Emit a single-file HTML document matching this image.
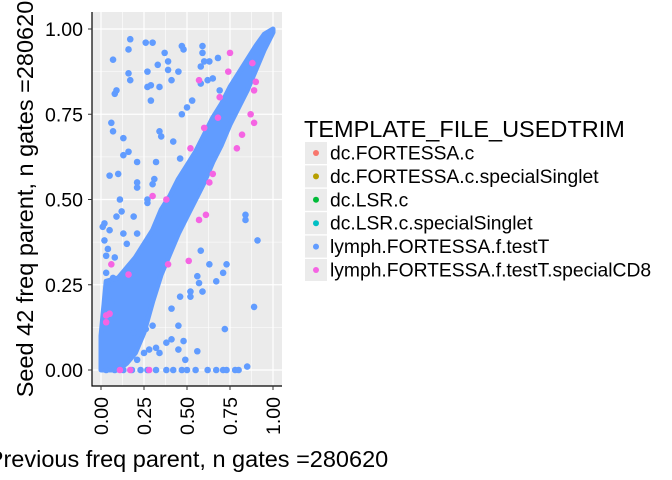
<!DOCTYPE html>
<html><head><meta charset="utf-8">
<style>
html,body{margin:0;padding:0;background:#fff;}
svg{display:block;font-family:"Liberation Sans",Arial,sans-serif;}
</style></head>
<body>
<svg id="chart" width="672" height="480" viewBox="0 0 672 480">
<rect x="0" y="0" width="672" height="480" fill="#fff"/>
<g id="panel"></g>
<g id="axes"></g>
<text x="188" y="467" font-size="23.5" text-anchor="middle" fill="#000">Previous freq parent, n gates =280620</text>
<text transform="translate(33,199) rotate(-90)" font-size="23.5" text-anchor="middle" fill="#000">Seed 42 freq parent, n gates =280620</text>
<g id="legend"></g>
</svg>
<script>
const categories = ["dc.FORTESSA.c","dc.FORTESSA.c.specialSinglet","dc.LSR.c","dc.LSR.c.specialSinglet","lymph.FORTESSA.f.testT","lymph.FORTESSA.f.testT.specialCD8"];
const colors = ["#F8766D","#B79F00","#00BA38","#00BFC4","#619CFF","#F564E3"];
const tickValues = [0,0.25,0.5,0.75,1];
const tickLabels = ["0.00","0.25","0.50","0.75","1.00"];
// dense band envelope of the blue series
const bandX =    [0,   0.03,0.1, 0.15,0.2, 0.25,0.3, 0.35,0.4, 0.45,0.5, 0.55,0.6, 0.65,0.7, 0.75,0.8, 0.85,0.9, 0.95,1.0];
const bandLow =  [0,   0,   0,   0.02,0.05,0.11,0.20,0.28,0.34,0.40,0.45,0.50,0.55,0.61,0.66,0.72,0.77,0.82,0.88,0.94,0.99];
const bandHigh = [0.10,0.26,0.27,0.30,0.33,0.37,0.41,0.47,0.51,0.56,0.60,0.64,0.69,0.74,0.78,0.83,0.87,0.91,0.95,0.985,1.0];
// scattered blue points
const blueX = [.17,.16,.07,.26,.30,.37,.16,.17,.27,.33,.39,.39,.45,.41,.27,.29,.34,.29,.08,.09,.47,.48,.59,.59,.60,.63,.68,.58,.62,.65,.53,.50,.47,.58,.69,.06,.07,.13,.16,.13,.34,.35,.42,.46,.21,.32,.05,.10,.21,.21,.31,.30,.11,.27,.27,.12,.09,.19,.02,.05,.13,.21,.15,.04,.08,.03,.03,.07,.91,.84,.84,.58,.63,.73,.71,.67,.56,.57,.59,.52,.52,.46,.41,.45,.89,.72,.48,.41,.45,.56,.49,.42,.47,.50,.55,.62,.67,.71,.73,.78,.80,.85,.38,.32,.27,.23,.18,.13,.08,.03,.28,.32,.34,.25,.21,.26,.30,.19,.38,.01,.02,.04,.06];
const blueY = [.97,.94,.91,.96,.96,.93,.87,.85,.875,.895,.905,.88,.875,.85,.83,.835,.83,.79,.81,.82,.95,.94,.95,.93,.905,.905,.915,.89,.85,.855,.79,.77,.75,.84,.82,.725,.70,.68,.64,.63,.70,.685,.67,.62,.61,.61,.57,.575,.55,.535,.56,.545,.50,.49,.50,.465,.45,.45,.43,.41,.40,.40,.37,.355,.33,.335,.285,.27,.38,.455,.44,.35,.31,.31,.285,.26,.275,.255,.23,.23,.215,.215,.18,.13,.185,.12,.085,.09,.06,.055,.03,0,0,0,0,0,0,0,0,0,0,.01,0,0,0,0,0,0,0,0,.06,.065,.05,.05,.03,.12,.13,.11,.08,.42,.38,.25,.20];
// pink points
const pinkX = [.75,.74,.57,.69,.68,.60,.89,.87,.89,.82,.79,.52,.65,.63,.30,.38,.57,.61,.06,.16,.03,.03,.05,.17,.28,.11,.51,.39,.88,.90];
const pinkY = [.93,.875,.85,.80,.74,.71,.82,.75,.725,.69,.65,.65,.575,.55,.51,.50,.44,.455,.31,.28,.16,.14,.165,0,0,0,.32,.31,.90,.845];

const L=92,R=282,T=12,B=386;
const X0=101,X1=273,Y0=370,Y1=29;
const sx=v=>X0+v*(X1-X0), sy=v=>Y0-v*(Y0-Y1);
const NS="http://www.w3.org/2000/svg";
function mk(tag,attrs,parent){const e=document.createElementNS(NS,tag);for(const k in attrs)e.setAttribute(k,attrs[k]);parent.appendChild(e);return e;}
const panel=document.getElementById('panel'), axes=document.getElementById('axes'), legend=document.getElementById('legend');

let bg=mk('rect',{x:L,y:T,width:R-L,height:B-T,fill:'#EBEBEB'},panel);


for(let i=0;i<tickValues.length-1;i++){
  const m=(tickValues[i]+tickValues[i+1])/2;
  let g1=mk('line',{x1:L,x2:R,y1:sy(m),y2:sy(m),stroke:'#fff','stroke-width':0.6},panel);
  
  
  let g2=mk('line',{x1:sx(m),x2:sx(m),y1:T,y2:B,stroke:'#fff','stroke-width':0.6},panel);
  
  
}
tickValues.forEach(v=>{
  let g1=mk('line',{x1:L,x2:R,y1:sy(v),y2:sy(v),stroke:'#fff','stroke-width':1.2},panel);
  
  
  let g2=mk('line',{x1:sx(v),x2:sx(v),y1:T,y2:B,stroke:'#fff','stroke-width':1.2},panel);
  
  
});
// band
let pts=[];
for(let i=0;i<bandX.length;i++)pts.push(sx(bandX[i])+','+sy(bandHigh[i]));
for(let i=bandX.length-1;i>=0;i--)pts.push(sx(bandX[i])+','+sy(bandLow[i]));
let band=mk('polygon',{points:pts.join(' '),fill:colors[4],stroke:colors[4],'stroke-width':5,'stroke-linejoin':'round'},panel);


blueX.forEach((x,i)=>{
  let c=mk('circle',{cx:sx(x),cy:sy(blueY[i]),r:3.3,fill:colors[4]},panel);
  
  
});
pinkX.forEach((x,i)=>{
  let c=mk('circle',{cx:sx(x),cy:sy(pinkY[i]),r:3.3,fill:colors[5]},panel);
  
  
});
// axis lines
let ay=mk('line',{x1:L,x2:L,y1:T,y2:B+0.5,stroke:'#000','stroke-width':1.2},axes);


let ax=mk('line',{x1:L-0.5,x2:R,y1:B,y2:B,stroke:'#000','stroke-width':1.2},axes);


tickValues.forEach((v,i)=>{
  let t1=mk('line',{x1:L-4,x2:L,y1:sy(v),y2:sy(v),stroke:'#333','stroke-width':1},axes);
  
  
  let l1=mk('text',{x:L-9,y:sy(v)+7,'font-size':19.5,'text-anchor':'end',fill:'#000'},axes);
  l1.textContent=tickLabels[i];
  
  
  let t2=mk('line',{x1:sx(v),x2:sx(v),y1:B,y2:B+4,stroke:'#333','stroke-width':1},axes);
  
  
  let l2=mk('text',{transform:'translate('+(sx(v)+7)+','+(B+11)+') rotate(-90)','font-size':19.5,'text-anchor':'end',fill:'#000'},axes);
  l2.textContent=tickLabels[i];
  
  
});
// legend
let lt=mk('text',{x:304,y:137,'font-size':23.5,fill:'#000'},legend);
lt.textContent='TEMPLATE_FILE_USEDTRIM';


categories.forEach((c,i)=>{
  const cy=153+i*23.4;
  let k=mk('rect',{x:305,y:cy-11,width:22,height:22,fill:'#EBEBEB'},legend);
  
  
  let d=mk('circle',{cx:316,cy:cy,r:3,fill:colors[i]},legend);
  
  
  let t=mk('text',{x:330,y:cy+6.5,'font-size':19.3,fill:'#000'},legend);
  t.textContent=c;
  
  
});
</script>
</body></html>
